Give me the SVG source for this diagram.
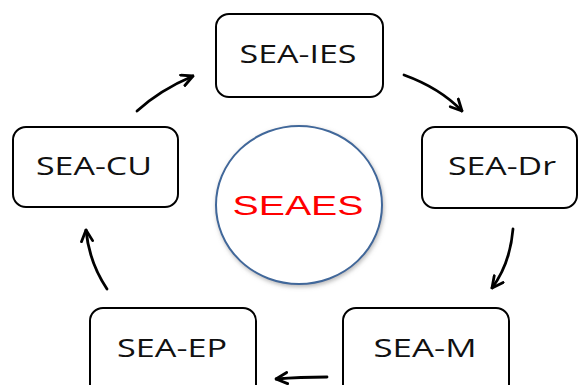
<svg xmlns="http://www.w3.org/2000/svg" width="579" height="385" viewBox="0 0 579 385">
<defs>
<style>
.box{fill:#fff;stroke:#000;stroke-width:2}
.lbl{font-family:"Open Sans","Liberation Sans",sans-serif;font-size:25px;fill:#111;text-anchor:middle}
.con{fill:none;stroke:#000;stroke-width:2.8;stroke-linecap:round}
</style>
<marker id="ah" viewBox="0 0 10 10" refX="9" refY="5" markerWidth="5" markerHeight="5" orient="auto" markerUnits="strokeWidth">
<path d="M1,1 L9,5 L1,9" fill="none" stroke="#000" stroke-width="2" stroke-linecap="round" stroke-linejoin="round"/>
</marker>
<filter id="sh" x="-20%" y="-20%" width="140%" height="140%">
<feDropShadow dx="1" dy="2" stdDeviation="2" flood-color="#888" flood-opacity="0.6"/>
</filter>
</defs>
<rect width="579" height="385" fill="#fff"/>
<g id="center">
<ellipse cx="299" cy="205" rx="83" ry="79" fill="#fff" stroke="#41679a" stroke-width="2" filter="url(#sh)"/>
<text x="298" y="215" font-family="'Liberation Sans',Arial,sans-serif" font-size="28" fill="#f00" text-anchor="middle" textLength="131" lengthAdjust="spacingAndGlyphs">SEAES</text>
</g>
<g id="sea-ies">
<rect class="box" x="216" y="14" width="167" height="83" rx="13"/>
<text class="lbl" x="298" y="63" textLength="117" lengthAdjust="spacingAndGlyphs">SEA-IES</text>
</g>
<g id="sea-dr">
<rect class="box" x="422" y="127" width="155" height="81" rx="13"/>
<text class="lbl" x="502" y="175" textLength="108" lengthAdjust="spacingAndGlyphs">SEA-Dr</text>
</g>
<g id="sea-m">
<rect class="box" x="343" y="308" width="166" height="90" rx="13"/>
<text class="lbl" x="425" y="357" textLength="103" lengthAdjust="spacingAndGlyphs">SEA-M</text>
</g>
<g id="sea-ep">
<rect class="box" x="90" y="308" width="166" height="90" rx="13"/>
<text class="lbl" x="172" y="357" textLength="110" lengthAdjust="spacingAndGlyphs">SEA-EP</text>
</g>
<g id="sea-cu">
<rect class="box" x="13" y="127" width="165" height="80" rx="13"/>
<text class="lbl" x="94" y="175" textLength="116" lengthAdjust="spacingAndGlyphs">SEA-CU</text>
</g>
<g id="connectors">
<path class="con" d="M137,111 Q160,90 193,76" marker-end="url(#ah)"/>
<path class="con" d="M404,75 Q440,88 462,111" marker-end="url(#ah)"/>
<path class="con" d="M513,229 Q510,264 492,288" marker-end="url(#ah)"/>
<path class="con" d="M327,377 Q300,377 276,379" marker-end="url(#ah)"/>
<path class="con" d="M107,289 Q89,262 86,230" marker-end="url(#ah)"/>
</g>
</svg>
